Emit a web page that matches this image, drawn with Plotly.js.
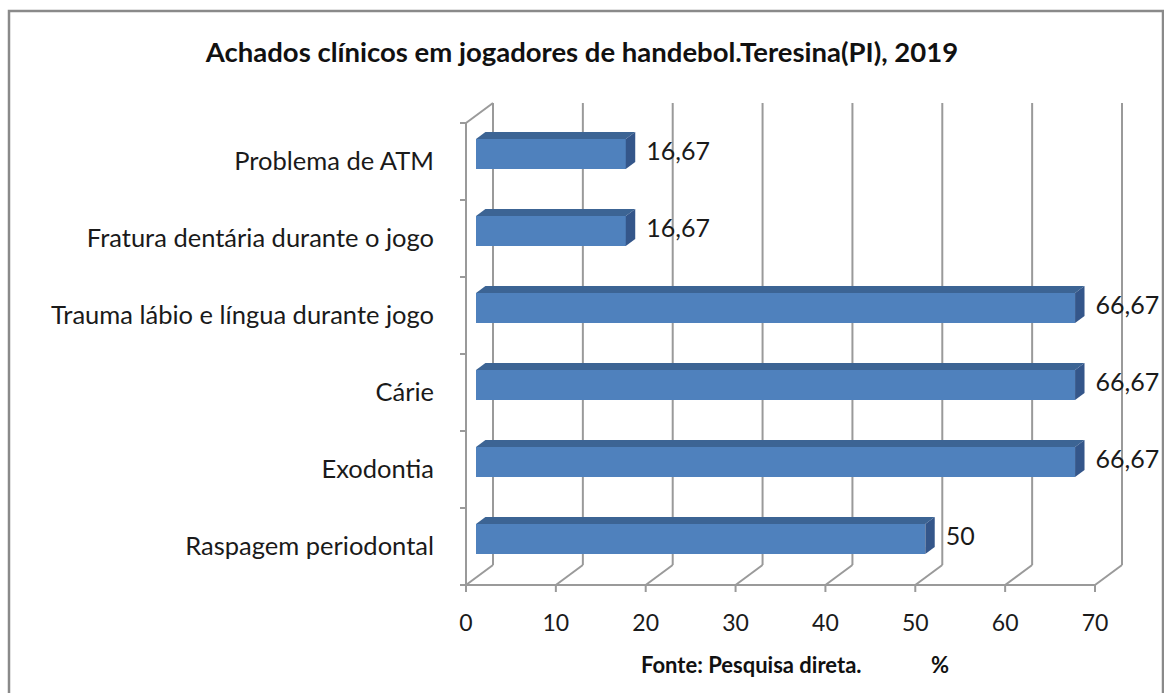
<!DOCTYPE html>
<html><head><meta charset="utf-8">
<script src="https://cdn.plot.ly/plotly-3.0.1.min.js"></script>
<style>html,body{margin:0;padding:0;background:#fff}#chart{width:1164px;height:693px}</style>
</head><body><div id="chart"></div><script>
// ---- data ----
const categories = ["Raspagem periodontal", "Exodontia", "Cárie", "Trauma lábio e língua durante jogo", "Fratura dentária durante o jogo", "Problema de ATM"];
const values = [50, 66.67, 66.67, 66.67, 16.67, 16.67];
const valueLabels = ["50", "66,67", "66,67", "66,67", "16,67", "16,67"];
const xTicks = [0, 10, 20, 30, 40, 50, 60, 70];
const xTickText = ["0", "10", "20", "30", "40", "50", "60", "70"];
const chartTitle = "Achados clínicos em jogadores de handebol.Teresina(PI), 2019";
const xTitleLeft = "Fonte: Pesquisa direta.";
const xTitleRight = "%";

// ---- geometry (pixels -> axis units) ----
const W = 1164, H = 693;
const PL = 440, PR = 1134, PT = 96, PB = 600;
const X0 = 466, PXU = (1095 - 466) / 70;
const FLOOR = 585, BAND = 77;
const xr = [(PL - X0) / PXU, (PR - X0) / PXU];
const yr = [(FLOOR - PB) / BAND, (FLOOR - PT) / BAND];
const DX = 27 / PXU, DY = 20 / BAND;
const F1 = 0.37, F2 = 0.72, BH = 30 / BAND;
const nCat = categories.length;
const xMax = xTicks[xTicks.length - 1];
const FONT = "Lato, 'Open Sans', sans-serif";
const GRID = "#9a9a9a";

const centers = categories.map((c, i) => i + 0.5 + F1 * DY);
const bx0 = F1 * DX;
const ddx = (F2 - F1) * DX, ddy = (F2 - F1) * DY;

const traces = [];
traces.push({
  type: "bar", orientation: "h",
  y: centers, x: values, base: values.map(() => bx0), width: BH,
  marker: {color: "#4F81BD", line: {width: 0}},
  hoverinfo: "skip", showlegend: false
});
values.forEach((v, i) => {
  const x1 = bx0 + v, yt = centers[i] + BH / 2, yb = centers[i] - BH / 2;
  traces.push({
    type: "scatter", mode: "lines", fill: "toself",
    x: [bx0, x1, x1 + ddx, bx0 + ddx, bx0],
    y: [yt, yt, yt + ddy, yt + ddy, yt],
    fillcolor: "#3C6494", line: {width: 0, color: "#3C6494"},
    hoverinfo: "skip", showlegend: false
  });
  traces.push({
    type: "scatter", mode: "lines", fill: "toself",
    x: [x1, x1 + ddx, x1 + ddx, x1, x1],
    y: [yb, yb + ddy, yt + ddy, yt, yb],
    fillcolor: "#34568A", line: {width: 0, color: "#34568A"},
    hoverinfo: "skip", showlegend: false
  });
});
traces.push({
  type: "scatter", mode: "text",
  x: values.map(v => v + F2 * DX + 11 / PXU), y: centers,
  text: valueLabels, textposition: "middle right",
  textfont: {family: FONT, size: 25, color: "#1a1a1a"},
  hoverinfo: "skip", showlegend: false, cliponaxis: false
});

const shapes = [];
const ln = (x0, y0, x1, y1) => shapes.push({type: "line", xref: "x", yref: "y", x0, y0, x1, y1, layer: "below", line: {color: GRID, width: 2}});
xTicks.forEach(t => {
  ln(t + DX, DY, t + DX, nCat + DY);           // back wall gridline
  ln(t, 0, t + DX, DY);                       // floor diagonal
  ln(t, 0, t, -7 / BAND);                     // tick mark
});
ln(0, 0, xMax, 0);                            // floor front edge
ln(0, 0, 0, nCat);                            // side wall front edge
ln(0, nCat, DX, nCat + DY);                   // side wall top diagonal
for (let k = 0; k <= nCat; k++) ln(-6 / PXU, k, 0, k);
// outer chart border
const pw = PR - PL, ph = PB - PT;
shapes.push({type: "rect", xref: "paper", yref: "paper",
  x0: (9 - PL) / pw, x1: (1163 - PL) / pw, y0: (PB - 705) / ph, y1: (PB - 11) / ph,
  line: {color: "#8a8a8a", width: 2.5}, fillcolor: "rgba(0,0,0,0)", layer: "below"});

const nb = "\u00A0";
const layout = {
  width: W, height: H,
  margin: {l: PL, r: W - PR, t: PT, b: H - PB, autoexpand: false},
  paper_bgcolor: "#fff", plot_bgcolor: "rgba(0,0,0,0)",
  bargap: 0, showlegend: false,
  font: {family: FONT, color: "#1a1a1a"},
  title: {text: "<b>" + chartTitle + "</b>", x: 0.5, xref: "container", xanchor: "center",
          y: 1 - 52 / H, yref: "container", yanchor: "middle", font: {family: FONT, size: 27.5, color: "#111"}},
  xaxis: {range: xr, tickvals: xTicks, ticktext: xTickText, ticks: "", showgrid: false, zeroline: false,
          showline: false, tickfont: {size: 23, family: FONT, color: "#1a1a1a"}, fixedrange: true,
          ticklabelstandoff: 7,
          title: {text: "<b>" + nb.repeat(3) + xTitleLeft + nb.repeat(13) + xTitleRight + "</b>", standoff: 22,
                  font: {size: 22, family: FONT, color: "#111"}}},
  yaxis: {range: yr, tickvals: categories.map((c, i) => i + 0.5), ticktext: categories, ticks: "",
          showgrid: false, zeroline: false, showline: false, fixedrange: true, ticklabelstandoff: 5,
          tickfont: {size: 25.5, family: FONT, color: "#1a1a1a"}},
  shapes: shapes
};
Plotly.newPlot("chart", traces, layout, {displayModeBar: false, staticPlot: true});
</script></body></html>
